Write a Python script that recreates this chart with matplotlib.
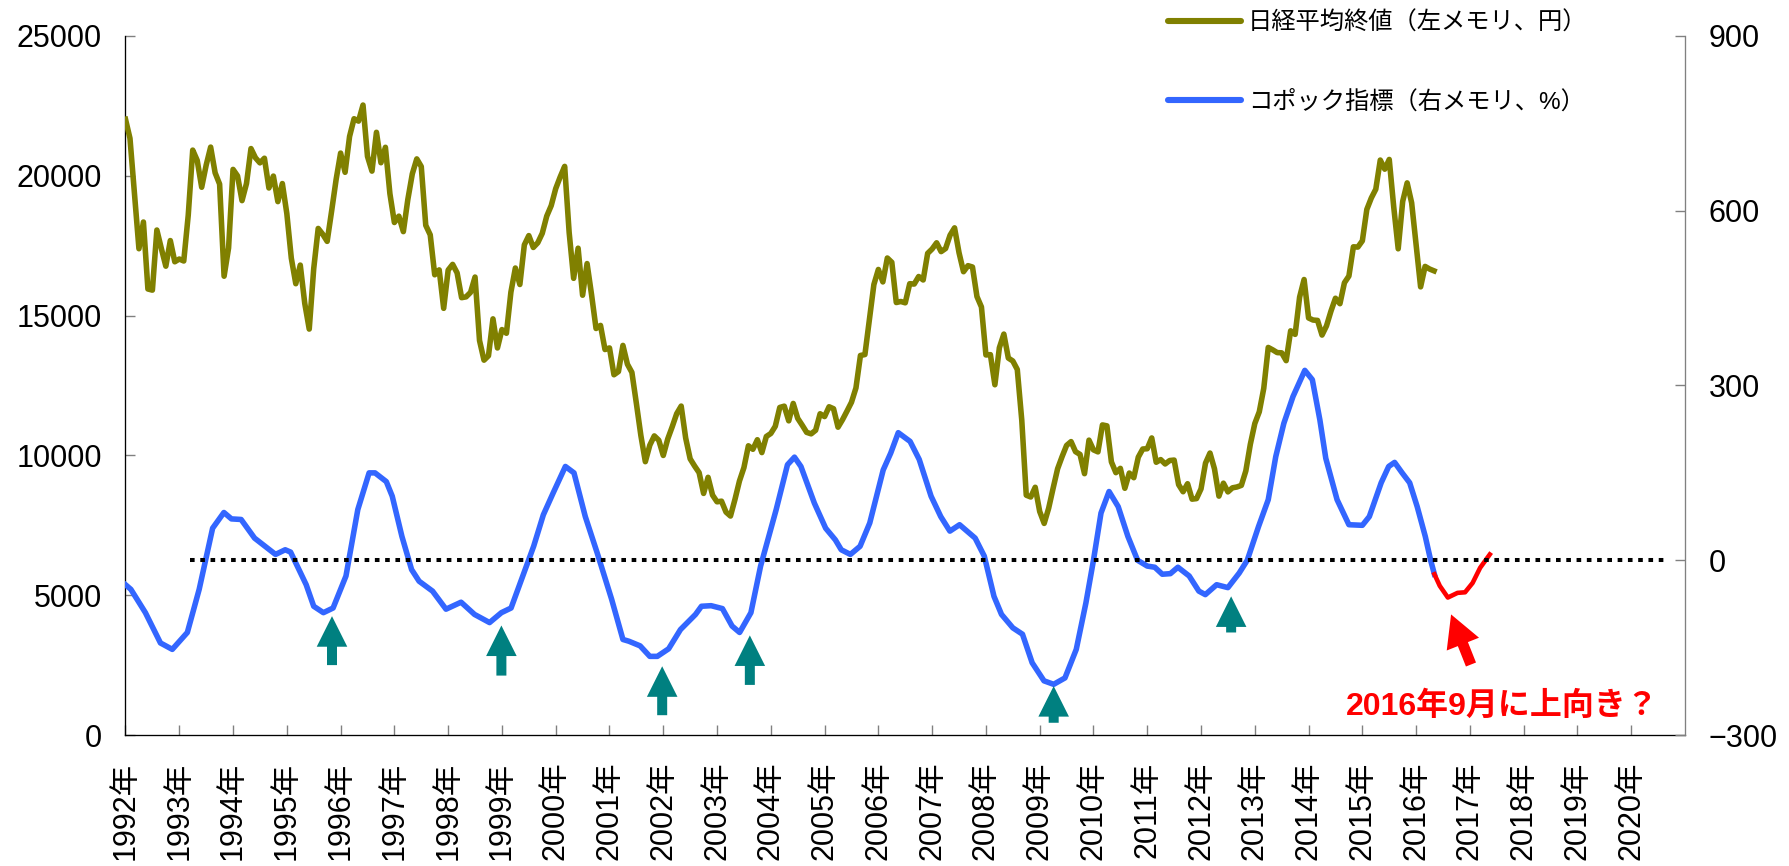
import matplotlib
matplotlib.use("Agg")
import matplotlib.pyplot as plt
from matplotlib.lines import Line2D
import numpy as np

plt.rcParams['font.family'] = ['Liberation Sans', 'Noto Sans CJK JP']
plt.rcParams['axes.unicode_minus'] = True

# ---------------- data ----------------
# Nikkei average, monthly close (yen), Jan 1992 ...
nikkei_1992_1996 = [
    22023, 21339, 19346, 17391, 18348, 15952, 15910, 18061, 17399, 16767, 17684, 16925,
    17024, 16953, 18591, 20919, 20552, 19590, 20380, 21027, 20106, 19703, 16408, 17417,
    20229, 19997, 19112, 19725, 20974, 20644, 20462, 20629, 19564, 19990, 19076, 19723,
    18650, 17054, 16140, 16807, 15437, 14517, 16678, 18117, 17913, 17655, 18744, 19868,
    20813, 20125, 21407, 22041, 21956, 22531, 20693, 20167, 21556, 20467, 21020, 19361]
nikkei_1997_2001 = [
    18330, 18557, 18003, 19151, 20069, 20605, 20331, 18229, 17888, 16459, 16636, 15259,
    16629, 16832, 16527, 15641, 15671, 15831, 16379, 14108, 13406, 13565, 14884, 13842,
    14500, 14368, 15837, 16702, 16112, 17530, 17862, 17437, 17605, 17943, 18558, 18934,
    19540, 19960, 20337, 17974, 16332, 17411, 15728, 16861, 15747, 14539, 14649, 13786,
    13844, 12884, 12999, 13934, 13262, 12969, 11861, 10714, 9775, 10366, 10697, 10543]
nikkei_2002_2006 = [
    9998, 10588, 11025, 11493, 11764, 10622, 9878, 9619, 9383, 8640, 9216, 8579,
    8340, 8363, 7973, 7831, 8425, 9083, 9563, 10344, 10219, 10560, 10101, 10677,
    10784, 11042, 11715, 11761, 11236, 11858, 11326, 11082, 10824, 10771, 10899, 11489,
    11388, 11740, 11669, 11009, 11277, 11584, 11900, 12414, 13574, 13607, 14872, 16111,
    16650, 16205, 17060, 16906, 15467, 15505, 15457, 16141, 16128, 16399, 16274, 17226]
nikkei_2007_2011 = [
    17383, 17604, 17288, 17400, 17876, 18138, 17249, 16569, 16786, 16738, 15681, 15308,
    13592, 13604, 12526, 13850, 14339, 13482, 13377, 13073, 11260, 8577, 8512, 8860,
    7994, 7568, 8110, 8828, 9523, 9958, 10357, 10493, 10133, 10035, 9346, 10546,
    10198, 10126, 11090, 11057, 9769, 9383, 9537, 8824, 9369, 9202, 9937, 10229,
    10238, 10624, 9755, 9850, 9694, 9816, 9833, 8955, 8700, 8988, 8435, 8455]
nikkei_2012_2016 = [
    8803, 9723, 10084, 9521, 8543, 9007, 8695, 8840, 8870, 8928, 9446, 10395,
    11139, 11559, 12398, 13861, 13775, 13677, 13668, 13389, 14456, 14328, 15662, 16291,
    14915, 14841, 14828, 14304, 14632, 15162, 15621, 15425, 16174, 16414, 17460, 17451,
    17674, 18798, 19207, 19520, 20563, 20236, 20585, 18890, 17388, 19083, 19747, 19034,
    17518, 16027, 16759, 16666, 16600]
nikkei_start_year = 1992

# Coppock indicator (%) (decimal year, value)
coppock_t = [1992.00, 1992.10, 1992.37, 1992.65, 1992.87, 1993.15, 1993.37, 1993.62, 1993.83, 1993.97,
             1994.15, 1994.40, 1994.58, 1994.79, 1994.97, 1995.07, 1995.36, 1995.50, 1995.68, 1995.86,
             1996.10, 1996.32, 1996.53, 1996.64, 1996.85, 1996.96, 1997.14, 1997.32, 1997.46, 1997.71,
             1997.96, 1998.24, 1998.49, 1998.77, 1998.99, 1999.17, 1999.34, 1999.59, 1999.77, 1999.95,
             2000.18, 2000.34, 2000.55, 2000.77, 2001.04, 2001.25, 2001.36, 2001.57, 2001.75, 2001.89,
             2002.10, 2002.32, 2002.60, 2002.71, 2002.89, 2003.10, 2003.28, 2003.42, 2003.63, 2003.81,
             2004.10, 2004.31, 2004.44, 2004.56, 2004.81, 2005.02, 2005.20, 2005.31, 2005.48, 2005.66,
             2005.84, 2006.09, 2006.23, 2006.37, 2006.59, 2006.76, 2006.98, 2007.16, 2007.33, 2007.51,
             2007.80, 2007.97, 2008.15, 2008.29, 2008.50, 2008.68, 2008.86, 2009.08, 2009.26, 2009.47,
             2009.68, 2009.86, 2010.00, 2010.14, 2010.29, 2010.46, 2010.64, 2010.82, 2011.00, 2011.14,
             2011.28, 2011.43, 2011.57, 2011.78, 2011.96, 2012.08, 2012.29, 2012.50, 2012.71, 2012.86,
             2013.07, 2013.25, 2013.39, 2013.54, 2013.71, 2013.93, 2014.07, 2014.21, 2014.32, 2014.53,
             2014.75, 2015.00, 2015.13, 2015.35, 2015.49, 2015.60, 2015.74, 2015.88, 2016.02, 2016.17,
             2016.27, 2016.34]
coppock_v = [-42, -50, -90, -142, -153, -124, -50, 55, 82, 71,
             70, 38, 25, 10, 18, 14, -42, -79, -90, -82,
             -27, 87, 150, 150, 135, 110, 41, -16, -36, -53,
             -84, -72, -93, -107, -90, -82, -39, 24, 78, 115,
             161, 150, 75, 13, -67, -136, -139, -147, -165, -165,
             -152, -119, -93, -79, -78, -83, -113, -124, -90, -10,
             87, 164, 177, 161, 98, 55, 35, 18, 10, 24,
             64, 155, 184, 219, 204, 173, 110, 75, 50, 61,
             38, 7, -62, -93, -116, -127, -176, -207, -213, -202,
             -153, -73, 0, 81, 118, 92, 41, 0, -10, -12,
             -24, -23, -12, -27, -53, -59, -42, -47, -22, 0,
             58, 104, 178, 235, 281, 326, 310, 241, 175, 104,
             61, 60, 75, 133, 161, 168, 150, 133, 92, 41,
             0, -24]
# projected part (red)
proj_t = [2016.34, 2016.44, 2016.59, 2016.77, 2016.91, 2017.05, 2017.19, 2017.37]
proj_v = [-24, -44, -64, -56, -55, -39, -13, 10]

years = list(range(1992, 2021))
year_labels = [f"{y}年" for y in years]
left_ticks = [0, 5000, 10000, 15000, 20000, 25000]
right_ticks = [-300, 0, 300, 600, 900]

# trough arrows (decimal year, tip value, tail value on right axis)
arrow_x = [1995.84, 1998.99, 2001.98, 2003.61, 2009.26, 2012.56]
arrow_tip = [-96, -112, -182, -129, -216, -62]
arrow_tail = [-180, -198, -266, -214, -279, -124]

legend_labels = ["日経平均終値（左メモリ、円）", "コポック指標（右メモリ、%）"]
note_text = "2016年9月に上向き？"

OLIVE = "#808000"
BLUE = "#3366FF"
RED = "#FF0000"
TEAL = "#008080"
GRAY = "#808080"

# ---------------- figure ----------------
nikkei = np.array(nikkei_1992_1996 + nikkei_1997_2001 + nikkei_2002_2006
                  + nikkei_2007_2011 + nikkei_2012_2016, dtype=float)
nikkei_t = nikkei_start_year + np.arange(len(nikkei)) / 12.0

fig = plt.figure(figsize=(17.89, 8.66), dpi=100)
ax = fig.add_axes([0.07015, 0.15127, 0.87172, 0.80716])
ax2 = ax.twinx()

ax.plot(nikkei_t, nikkei, color=OLIVE, lw=4.0, zorder=3)
ax2.plot(coppock_t, coppock_v, color=BLUE, lw=4.0, zorder=2)
ax2.plot(proj_t, proj_v, color=RED, lw=3.3, zorder=3)
ax2.hlines(0, 1993.2, 2020.65, colors='black', linestyles=(0, (1.15, 1.4)), lw=2.9, zorder=4)

for x, tip, tail in zip(arrow_x, arrow_tip, arrow_tail):
    ax2.annotate("", xy=(x, tip), xytext=(x, tail),
                 arrowprops=dict(arrowstyle="simple,head_length=2.2,head_width=2.2,tail_width=0.72",
                                 mutation_scale=10, fc=TEAL, ec='none', shrinkA=0, shrinkB=0))

ax2.annotate("", xy=(2016.65, -93), xytext=(2017.02, -179),
             arrowprops=dict(arrowstyle="simple,head_length=2.3,head_width=2.5,tail_width=0.78",
                             mutation_scale=10, fc=RED, ec='none', shrinkA=0, shrinkB=0))
ax2.text(2017.61, -251.6, note_text, color=RED, fontsize=23, fontweight='bold',
         ha='center', va='center')

ax.set_xlim(1992, 2021)
ax.set_ylim(0, 25000)
ax2.set_ylim(-300, 900)
ax.set_xticks(years)
ax.set_xticklabels(year_labels, rotation=90, fontsize=22)
ax.set_yticks(left_ticks)
ax.set_yticklabels([str(v) for v in left_ticks], fontsize=22)
ax2.set_yticks(right_ticks)
ax2.set_yticklabels([f"{v}".replace('-', '\u2212') for v in right_ticks], fontsize=22)

ax.tick_params(axis='x', direction='in', length=7, width=1, color=GRAY, pad=19)
ax.tick_params(axis='y', direction='in', length=7, width=1, color=GRAY, pad=17)
ax2.tick_params(axis='y', direction='in', length=7, width=1, color=GRAY, pad=17)

for a in (ax, ax2):
    a.spines['top'].set_visible(False)
ax.spines['right'].set_visible(False)
ax2.spines['left'].set_visible(False)
ax2.spines['bottom'].set_visible(False)
ax.spines['left'].set_linewidth(0.95)
ax.spines['bottom'].set_linewidth(0.95)
ax2.spines['right'].set_linewidth(0.95)
ax2.spines['right'].set_color(GRAY)

handles = [Line2D([], [], color=OLIVE, lw=4.4, solid_capstyle='round'),
           Line2D([], [], color=BLUE, lw=4.4, solid_capstyle='round')]
fig.legend(handles, legend_labels, loc='upper left', bbox_to_anchor=(0.6529, 0.987),
           frameon=False, fontsize=17.5, handlelength=3.0, handletextpad=0.3,
           labelspacing=2.3, borderpad=0, borderaxespad=0)

fig.savefig("out.png", dpi=100)
